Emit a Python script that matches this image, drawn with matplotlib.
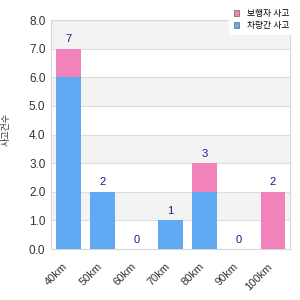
import matplotlib
matplotlib.use("Agg")
import matplotlib.pyplot as plt
from matplotlib.patches import Patch

plt.rcParams["font.family"] = ["Liberation Sans", "Noto Sans CJK KR"]

categories = ["40km", "50km", "60km", "70km", "80km", "90km", "100km"]
blue_vals = [6, 2, 0, 1, 2, 0, 0]
pink_vals = [1, 0, 0, 0, 1, 0, 2]
legend_labels = ["보행자 사고", "차량간 사고"]
y_label = "사고건수"

blue = "#62a9f3"
pink = "#f283ba"

fig = plt.figure(figsize=(3, 3), dpi=100)
ax = fig.add_axes([0.17, 0.17, 0.797, 0.763])

x = range(len(categories))
ax.bar(x, blue_vals, width=0.73, color=blue, zorder=3)
ax.bar(x, pink_vals, width=0.73, bottom=blue_vals, color=pink, zorder=3)

for i, (b, p) in enumerate(zip(blue_vals, pink_vals)):
    ax.text(i, b + p + 0.15, str(b + p), ha="center", va="bottom",
            fontsize=8, color="#1a1a8c", zorder=4)

ax.set_xlim(-0.5, len(categories) - 0.5)
ax.set_ylim(0, 8)
for lo in range(1, 8, 2):
    ax.axhspan(lo, lo + 1, color="#f3f3f3", zorder=0, lw=0)
ax.set_yticks(range(9))
ax.set_yticklabels([f"{v:.1f}" for v in range(9)], fontsize=8.5, color="#333333")
ax.yaxis.grid(True, color="#dddddd", lw=0.8, zorder=1)
ax.set_xticks(list(x))
ax.set_xticklabels([])
for i, c in enumerate(categories):
    ax.annotate(c, xy=(i, 0), xycoords=("data", "axes fraction"),
                xytext=(-4, -9), textcoords="offset points",
                rotation=45, ha="right", va="top", rotation_mode="anchor",
                fontsize=8, color="#333333")
ax.tick_params(length=0, pad=4)
for s in ax.spines.values():
    s.set_color("#d8d8d8")
    s.set_linewidth(0.8)

fig.text(0.022, 0.57, y_label, rotation=90, ha="center", va="center",
         fontsize=6.5, color="#333333")

handles = [Patch(facecolor=pink, edgecolor="#777777", lw=0.6),
           Patch(facecolor=blue, edgecolor="#777777", lw=0.6)]
leg = fig.legend(handles, legend_labels, loc="upper left",
                 bbox_to_anchor=(0.75, 1.0), fontsize=6.3, frameon=True,
                 handlelength=0.65, handleheight=0.65, handletextpad=0.9,
                 borderpad=0.5, labelspacing=0.35, fancybox=False)
leg.get_frame().set_edgecolor("white")
leg.get_frame().set_facecolor("white")
leg.get_frame().set_alpha(1)

fig.savefig("out.png", dpi=100)
